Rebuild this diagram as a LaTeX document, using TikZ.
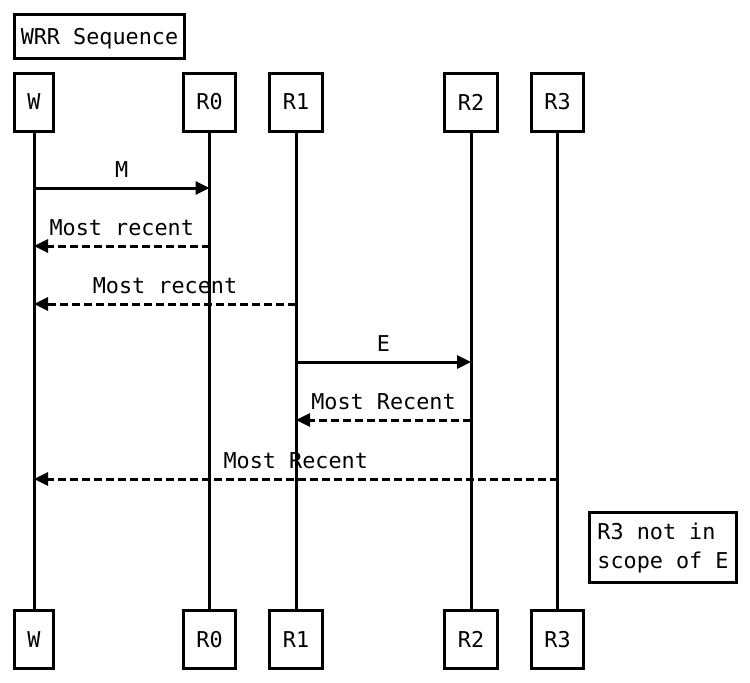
\documentclass[tikz,border=0pt]{standalone}
\usepackage{fontspec}
\newfontfamily\seqmono{DejaVu Sans Mono}
\usetikzlibrary{arrows.meta}
\begin{document}
\begin{tikzpicture}[x=1pt,y=-1pt,
  every node/.style={font=\seqmono\fontsize{21.8}{29}\selectfont},
  actor/.style={draw=black,line width=3pt,fill=white,minimum height=58pt,inner xsep=13pt,inner ysep=0pt},
  notebox/.style={draw=black,line width=3pt,fill=white,inner xsep=6pt,inner ysep=7pt,align=left},
  life/.style={line width=3pt},
  msg/.style={line width=3pt,-{Triangle[length=14pt,width=13pt]}},
  reply/.style={msg,dash pattern=on 8pt off 4pt},
  lbl/.style={anchor=base,yshift=11pt,inner sep=0pt}]
\useasboundingbox (0,0) rectangle (750,683);
\node[draw=black,line width=3pt,inner xsep=6pt,text depth=0pt,minimum height=44pt] (title) at (99.5,36) {WRR Sequence};
% top actors
\node[actor] (Wt) at (34,102) {W};
\node[actor] (R0t) at (209.5,102) {R0};
\node[actor] (R1t) at (296,102) {R1};
\node[actor] (R2t) at (471,102) {R2};
\node[actor] (R3t) at (557.5,102) {R3};
% bottom actors
\node[actor] (Wb) at (34,639.5) {W};
\node[actor] (R0b) at (209.5,639.5) {R0};
\node[actor] (R1b) at (296,639.5) {R1};
\node[actor] (R2b) at (471,639.5) {R2};
\node[actor] (R3b) at (557.5,639.5) {R3};
% lifelines
\foreach \a in {W,R0,R1,R2,R3}{\draw[life] (\a t) -- (\a b);}
% message rows
\coordinate (y1) at (0,188);
\coordinate (y2) at (0,246);
\coordinate (y3) at (0,304);
\coordinate (y4) at (0,362);
\coordinate (y5) at (0,420);
\coordinate (y6) at (0,479);
\draw[msg] (Wt |- y1) -- node[lbl]{M} (R0t |- y1);
\draw[reply] (R0t |- y2) -- node[lbl]{Most recent} (Wt |- y2);
\draw[reply] (R1t |- y3) -- node[lbl]{Most recent} (Wt |- y3);
\draw[msg] (R1t |- y4) -- node[lbl]{E} (R2t |- y4);
\draw[reply] (R2t |- y5) -- node[lbl]{Most Recent} (R1t |- y5);
\draw[reply] (R3t |- y6) -- node[lbl]{Most Recent} (Wt |- y6);
% note
\node[notebox,anchor=north west,minimum width=147pt,minimum height=70pt] (note) at (588,511) {R3 not in\\scope of E};
\end{tikzpicture}
\end{document}
